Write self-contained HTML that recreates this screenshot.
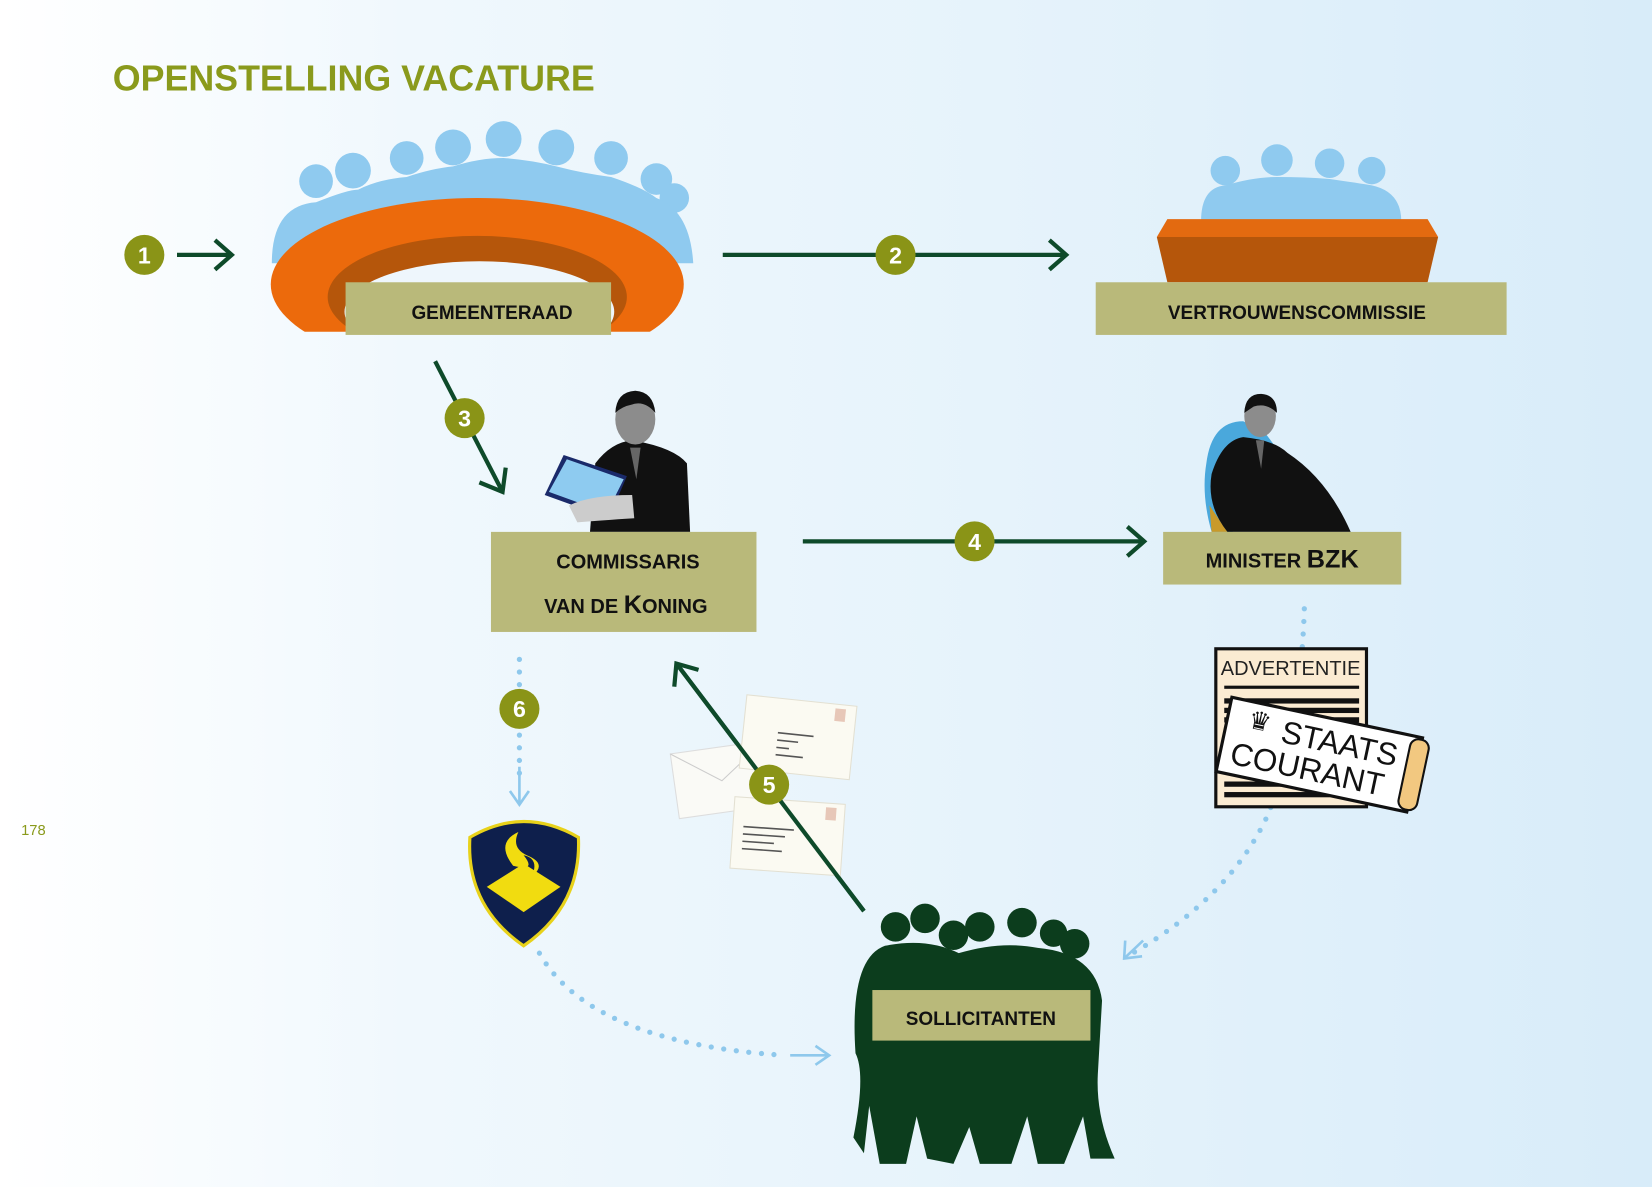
<!DOCTYPE html>
<html><head><meta charset="utf-8"><style>
html,body{margin:0;padding:0;}
body{width:1652px;height:1187px;overflow:hidden;background:linear-gradient(90deg,#ffffff 0%,#f0f8fd 25%,#e6f3fb 60%,#d8ecf9 100%);}
svg{display:block}
text{font-family:"Liberation Sans",sans-serif;}
</style></head><body>
<svg width="1652" height="1187" viewBox="0 0 1568 1127" preserveAspectRatio="none" xmlns="http://www.w3.org/2000/svg">
<defs>
<marker id="ah" viewBox="0 0 10 10" refX="8" refY="5" markerWidth="7" markerHeight="7" orient="auto" markerUnits="userSpaceOnUse">
</marker>
<clipPath id="cr"><rect x="0" y="0" width="1568" height="315"/></clipPath>
</defs>
<text x="107" y="86" font-size="34" font-weight="bold" fill="#8a9a1c">OPENSTELLING VACATURE</text>
<text x="20" y="793" font-size="14" fill="#8a9a1c">178</text>

<!-- Gemeenteraad people -->
<g fill="#8fcaef">
<circle cx="300" cy="172" r="16"/><circle cx="335" cy="162" r="17"/><circle cx="386" cy="150" r="16"/><circle cx="430" cy="140" r="17"/>
<circle cx="478" cy="132" r="17"/><circle cx="528" cy="140" r="17"/><circle cx="580" cy="150" r="16"/><circle cx="623" cy="170" r="15"/><circle cx="640" cy="188" r="14"/>
<path d="M258 250 Q258 195 300 192 Q330 180 340 180 Q360 170 386 168 Q410 160 430 158 Q455 150 478 150 Q505 152 528 158 Q555 165 580 168 Q610 178 623 188 Q655 200 658 250 Z"/>
</g>
<!-- ring -->
<g clip-path="url(#cr)">
<ellipse cx="453" cy="270" rx="196" ry="82" fill="#ec6a0c"/>
<ellipse cx="453" cy="282" rx="142" ry="58" fill="#b5560b"/>
<ellipse cx="455" cy="296" rx="128" ry="48" fill="#eef6fc"/>
</g>
<rect x="328" y="268" width="252" height="50" fill="#b9b97a"/>
<text x="467" y="303" font-size="18" font-weight="bold" text-anchor="middle" fill="#111">GEMEENTERAAD</text>

<!-- step 1 -->
<circle cx="137" cy="242" r="19" fill="#8a9417"/>
<text x="137" y="250" font-size="22" font-weight="bold" text-anchor="middle" fill="#fff">1</text>
<g stroke="#0e4a2a" stroke-width="4" fill="none">
<line x1="168" y1="242" x2="220" y2="242"/><polyline points="204,228 220,242 204,256"/>
<!-- 2 -->
<line x1="686" y1="242" x2="1012" y2="242"/><polyline points="996,228 1012,242 996,256"/>
<!-- 3 -->
<line x1="413" y1="343" x2="477" y2="467"/><polyline points="455,458 477,467 480,444"/>
<!-- 4 -->
<line x1="762" y1="514" x2="1086" y2="514"/><polyline points="1070,500 1086,514 1070,528"/>
<!-- 5 -->
<line x1="820" y1="865" x2="642" y2="630"/><polyline points="640,652 642,630 663,636"/>
</g>
<circle cx="850" cy="242" r="19" fill="#8a9417"/><text x="850" y="250" font-size="22" font-weight="bold" text-anchor="middle" fill="#fff">2</text>
<circle cx="441" cy="397" r="19" fill="#8a9417"/><text x="441" y="405" font-size="22" font-weight="bold" text-anchor="middle" fill="#fff">3</text>
<circle cx="925" cy="514" r="19" fill="#8a9417"/><text x="925" y="522" font-size="22" font-weight="bold" text-anchor="middle" fill="#fff">4</text>

<!-- Vertrouwenscommissie -->
<g fill="#8fcaef">
<circle cx="1163" cy="162" r="14"/><circle cx="1212" cy="152" r="15"/><circle cx="1262" cy="155" r="14"/><circle cx="1302" cy="162" r="13"/>
<path d="M1140 210 Q1140 178 1163 176 Q1190 168 1212 168 Q1240 168 1262 170 Q1290 174 1302 176 Q1330 182 1330 210 Z"/>
</g>
<polygon points="1098,225 1108,208 1355,208 1365,225" fill="#e36a10"/>
<polygon points="1098,225 1365,225 1355,268 1108,268" fill="#b5560b"/>
<rect x="1040" y="268" width="390" height="50" fill="#b9b97a"/>
<text x="1231" y="303" font-size="18" font-weight="bold" text-anchor="middle" fill="#111">VERTROUWENSCOMMISSIE</text>

<!-- Commissaris figure -->
<path d="M560 505 L565 440 Q580 420 600 418 Q640 425 652 440 L655 505 Z" fill="#111"/>
<ellipse cx="603" cy="398" rx="19" ry="24" fill="#8c8c8c"/>
<path d="M584 392 Q585 372 603 371 Q620 372 622 392 Q612 380 600 384 Q590 386 584 392Z" fill="#111"/>
<polygon points="598,425 608,425 604,455" fill="#666"/>
<polygon points="517,470 535,432 595,452 578,492" fill="#1a2a6a"/>
<polygon points="521,467 538,436 592,455 576,487" fill="#8ecbf0"/>
<path d="M540 480 Q560 470 600 470 L602 492 Q570 494 548 496 Z" fill="#ccc"/>
<rect x="466" y="505" width="252" height="95" fill="#b9b97a"/>
<text x="596" y="540" font-size="19" font-weight="bold" text-anchor="middle" fill="#111">COMMISSARIS</text>
<text x="594" y="582" font-size="19" font-weight="bold" text-anchor="middle" fill="#111">VAN DE <tspan font-size="24">K</tspan>ONING</text>

<!-- Minister figure -->
<path d="M1145 440 Q1150 400 1180 400 L1200 410 L1215 430 L1170 505 L1150 505 Q1140 470 1145 440Z" fill="#4aa8dc"/>
<path d="M1148 480 L1165 505 L1150 505Z" fill="#c99a2a"/>
<path d="M1150 450 Q1160 418 1180 415 Q1210 418 1222 430 Q1260 455 1282 505 L1165 505 Q1145 480 1150 450Z" fill="#111"/>
<ellipse cx="1196" cy="395" rx="15" ry="20" fill="#8c8c8c"/>
<path d="M1181 392 Q1182 374 1197 374 Q1212 375 1212 392 Q1202 382 1190 386Z" fill="#111"/>
<polygon points="1192,418 1200,418 1197,445" fill="#666"/>
<rect x="1104" y="505" width="226" height="50" fill="#b9b97a"/>
<text x="1217" y="539" font-size="19" font-weight="bold" text-anchor="middle" fill="#111">MINISTER <tspan font-size="24">BZK</tspan></text>

<!-- dotted lines -->
<g stroke="#8ec8ec" stroke-width="5" stroke-linecap="round" stroke-dasharray="0 12" fill="none">
<path d="M1238 578 Q1235 680 1205 770 Q1170 850 1075 905"/>
<line x1="493" y1="626" x2="493" y2="745"/>
<path d="M512 905 Q560 990 745 1002"/>
</g>
<g stroke="#8ec8ec" stroke-width="2.5" fill="none">
<line x1="493" y1="728" x2="493" y2="762"/><polyline points="484,751 493,764 502,751"/>
<line x1="750" y1="1002" x2="786" y2="1002"/><polyline points="774,993 787,1002 774,1011"/>
<polyline points="1068,893 1067,910 1084,908"/>
<line x1="1067" y1="910" x2="1085" y2="893"/>
</g>
<circle cx="493" cy="673" r="19" fill="#8a9417"/><text x="493" y="681" font-size="22" font-weight="bold" text-anchor="middle" fill="#fff">6</text>

<!-- Advertentie -->
<rect x="1154" y="616" width="143" height="150" fill="#fbebd2" stroke="#111" stroke-width="3"/>
<text x="1225" y="641" font-size="19" text-anchor="middle" fill="#222">ADVERTENTIE</text>
<g fill="#111"><rect x="1162" y="651" width="128" height="3"/><rect x="1162" y="663" width="128" height="5"/><rect x="1162" y="672" width="128" height="5"/><rect x="1162" y="681" width="128" height="5"/><rect x="1162" y="742" width="100" height="5"/><rect x="1162" y="752" width="100" height="5"/></g>
<g transform="rotate(12 1250 715)">
<rect x="1160" y="680" width="185" height="72" fill="#fff" stroke="#111" stroke-width="3"/>
<rect x="1335" y="682" width="18" height="68" rx="8" fill="#f2c880" stroke="#111" stroke-width="2"/>
<text x="1213" y="712" font-size="30" fill="#111">STAATS</text>
<text x="1170" y="742" font-size="30" fill="#111">COURANT</text>
<text x="1180" y="705" font-size="24" fill="#111">♛</text>
</g>

<!-- Envelopes -->
<g transform="rotate(-8 680 740)"><rect x="640" y="710" width="90" height="62" fill="#fafaf6" stroke="#ddd"/><polyline points="640,710 685,742 730,710" fill="none" stroke="#ccc"/></g>
<g transform="rotate(6 758 700)"><rect x="705" y="665" width="105" height="70" fill="#fbfaf2" stroke="#e3e0d2"/><rect x="790" y="669" width="10" height="12" fill="#e7c7b8"/>
<g fill="#555"><rect x="738" y="697" width="34" height="1.5"/><rect x="738" y="704" width="20" height="1.5"/><rect x="738" y="711" width="12" height="1.5"/><rect x="738" y="718" width="26" height="1.5"/></g></g>
<g transform="rotate(4 748 795)"><rect x="695" y="760" width="105" height="68" fill="#fbfaf2" stroke="#e3e0d2"/><rect x="782" y="764" width="10" height="12" fill="#e7c7b8"/>
<g fill="#555"><rect x="705" y="787" width="48" height="1.5"/><rect x="705" y="794" width="40" height="1.5"/><rect x="705" y="801" width="30" height="1.5"/><rect x="705" y="808" width="38" height="1.5"/></g></g>
<line x1="820" y1="865" x2="642" y2="630" stroke="#0e4a2a" stroke-width="4"/>
<circle cx="730" cy="745" r="19" fill="#8a9417"/><text x="730" y="753" font-size="22" font-weight="bold" text-anchor="middle" fill="#fff">5</text>

<!-- Police shield -->
<path d="M446 795 Q497 765 549 795 Q552 860 497 898 Q442 860 446 795Z" fill="#0e1f4c" stroke="#e8d21a" stroke-width="3"/>
<path d="M462 842 L497 820 L532 842 L497 866Z" fill="#f1dc10"/>
<path d="M487 822 Q470 800 492 790 Q485 805 500 812 Q520 820 505 832 Q512 815 497 812 Q510 828 487 822Z" fill="#f1dc10"/>

<!-- Sollicitanten crowd -->
<g fill="#0c3d1d">
<circle cx="850" cy="880" r="14"/><circle cx="878" cy="872" r="14"/><circle cx="905" cy="888" r="14"/><circle cx="930" cy="880" r="14"/><circle cx="970" cy="876" r="14"/><circle cx="1000" cy="886" r="13"/><circle cx="1020" cy="896" r="14"/>
<path d="M812 1000 Q806 910 840 898 Q880 890 910 905 Q950 893 985 900 Q1040 905 1046 950 L1042 1020 Q1040 1060 1058 1100 L1035 1100 L1028 1060 L1010 1105 L985 1105 L975 1060 L960 1105 L930 1105 L920 1070 L905 1105 L880 1100 L870 1060 L860 1105 L835 1105 L825 1050 L820 1095 L810 1080 Q822 1020 812 1000Z"/>
</g>
<rect x="828" y="940" width="207" height="48" fill="#b9b97a"/>
<text x="931" y="973" font-size="18" font-weight="bold" text-anchor="middle" fill="#111">SOLLICITANTEN</text>
</svg>
</body></html>
